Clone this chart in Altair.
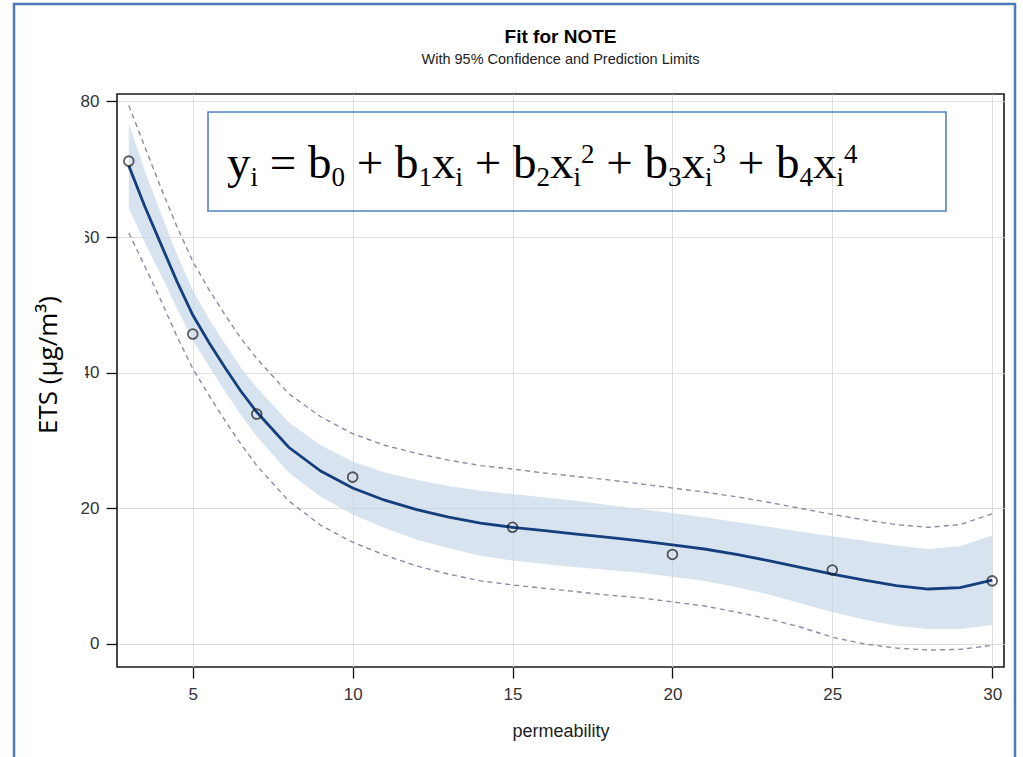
import altair as alt
import pandas as pd

# fitted curve and limits
x_fit = [3, 3.5, 4, 4.5, 5, 5.5, 6, 6.5, 7, 8, 9, 10, 11, 12, 13, 14, 15, 16, 17, 18,
         19, 20, 21, 22, 23, 24, 25, 26, 27, 28, 29, 30]
fit = [70.5, 64.5, 59.0, 53.5, 48.5, 44.5, 40.8, 37.3, 34.2, 29.0, 25.5, 23.0, 21.2, 19.8,
       18.7, 17.8, 17.2, 16.7, 16.2, 15.7, 15.2, 14.6, 14.0, 13.2, 12.3, 11.3, 10.3, 9.4,
       8.6, 8.1, 8.3, 9.4]
ci_lo = [64.2, 59.2, 54.5, 49.5, 44.8, 41.0, 37.3, 33.8, 30.6, 25.3, 21.7, 19.1, 17.1, 15.4,
         14.1, 13.0, 12.3, 11.8, 11.3, 10.9, 10.5, 9.9, 9.3, 8.4, 7.3, 6.0, 4.7, 3.6,
         2.7, 2.2, 2.2, 2.8]
ci_hi = [76.8, 69.8, 63.5, 57.5, 52.2, 48.0, 44.3, 40.8, 37.8, 32.7, 29.3, 26.9, 25.3, 24.2,
         23.3, 22.6, 22.1, 21.6, 21.1, 20.5, 19.9, 19.3, 18.7, 18.0, 17.3, 16.6, 15.9, 15.2,
         14.5, 14.0, 14.4, 16.0]
pi_lo = [60.6, 55.7, 50.7, 45.4, 40.6, 36.7, 33.0, 29.5, 26.3, 21.1, 17.5, 15.0, 13.1, 11.5,
         10.3, 9.3, 8.7, 8.2, 7.7, 7.2, 6.8, 6.2, 5.6, 4.7, 3.7, 2.5, 1.0, 0.0,
         -0.6, -0.9, -0.8, -0.2]
pi_hi = [79.4, 73.3, 67.3, 61.6, 56.4, 52.3, 48.6, 45.1, 42.1, 36.9, 33.5, 31.0, 29.3, 28.1,
         27.1, 26.3, 25.8, 25.2, 24.7, 24.2, 23.6, 23.0, 22.4, 21.7, 20.9, 20.0, 19.1, 18.3,
         17.6, 17.2, 17.6, 19.2]

# observed points
x_obs = [3, 5, 7, 10, 15, 20, 25, 30]
y_obs = [71.2, 45.7, 33.9, 24.6, 17.2, 13.2, 10.9, 9.3]

x_ticks = [5, 10, 15, 20, 25, 30]
y_ticks = [0, 20, 40, 60, 80]

title_text = "Fit for NOTE"
subtitle_text = "With 95% Confidence and Prediction Limits"
x_title = "permeability"
y_title = "ETS (μg/m³)"

# equation pieces: (text, role)  role: m = main, b = subscript, p = superscript, o = operator
eq_pieces = [("y", "m"), ("i", "b"), ("=", "o"), ("b", "m"), ("0", "b"), ("+", "o"),
             ("b", "m"), ("1", "b"), ("x", "m"), ("i", "b"), ("+", "o"),
             ("b", "m"), ("2", "b"), ("x", "m"), ("i", "b"), ("2", "p"), ("+", "o"),
             ("b", "m"), ("3", "b"), ("x", "m"), ("i", "b"), ("3", "p"), ("+", "o"),
             ("b", "m"), ("4", "b"), ("x", "m"), ("i", "b"), ("4", "p")]

fit_df = pd.DataFrame({"x": x_fit, "fit": fit, "ci_lo": ci_lo, "ci_hi": ci_hi,
                       "pi_lo": pi_lo, "pi_hi": pi_hi})
obs_df = pd.DataFrame({"x": x_obs, "y": y_obs})
one = pd.DataFrame({"a": [0]})

FONT = "Liberation Sans"
W, H = 887, 573

xscale = alt.Scale(domain=[2.63, 30.37], nice=False, zero=False)
yscale = alt.Scale(domain=[-3.4, 81.1], nice=False, zero=False)

x_enc = alt.X("x:Q", scale=xscale,
              axis=alt.Axis(values=x_ticks, title=x_title, format="d"))
y_axis = alt.Axis(values=y_ticks, title=None, format="d")

base = alt.Chart(fit_df)

band = base.mark_area(color="#c3d4e8", opacity=0.65).encode(
    x=x_enc,
    y=alt.Y("ci_lo:Q", scale=yscale, axis=y_axis),
    y2="ci_hi:Q",
)
pi_hi_line = base.mark_line(color="#8a8ca4", strokeDash=[5, 4], strokeWidth=1.4).encode(
    x=x_enc, y=alt.Y("pi_hi:Q", scale=yscale, axis=y_axis))
pi_lo_line = base.mark_line(color="#8a8ca4", strokeDash=[5, 4], strokeWidth=1.4).encode(
    x=x_enc, y=alt.Y("pi_lo:Q", scale=yscale, axis=y_axis))
fit_line = base.mark_line(color="#143f7c", strokeWidth=2.8).encode(
    x=x_enc, y=alt.Y("fit:Q", scale=yscale, axis=y_axis))
points = alt.Chart(obs_df).mark_point(filled=False, color="#1a1a1a", size=95,
                                      strokeWidth=1.8, shape="circle").encode(
    x=x_enc, y=alt.Y("y:Q", scale=yscale, axis=y_axis))

# equation box (transparent inside, grid shows through)
eq_box = alt.Chart(one).mark_rect(fill=None, stroke="#5282c0", strokeWidth=1.6).encode(
    x=alt.value(91), x2=alt.value(829), y=alt.value(18), y2=alt.value(117))

# equation laid out piece by piece with Times (Liberation Serif) advance widths
MAIN, SCRIPT = 47, 27
adv = {"y": 0.5, "b": 0.5, "x": 0.5, "i": 0.278, "=": 0.564, "+": 0.564,
       "0": 0.5, "1": 0.5, "2": 0.5, "3": 0.5, "4": 0.5}
space = 0.25 * MAIN
base_y = 84.3
eq_layers = []
cx = 110.0
for t, role in eq_pieces:
    if role == "o":
        cx += space
        fs, yy = MAIN, base_y
    elif role == "m":
        fs, yy = MAIN, base_y
    elif role == "b":
        fs, yy = SCRIPT, base_y + 8
    else:
        fs, yy = SCRIPT, base_y - 15
    eq_layers.append(
        alt.Chart(one).mark_text(text=t, font="Liberation Serif", fontSize=fs,
                                 align="left", baseline="alphabetic", color="black")
        .encode(x=alt.value(round(cx, 1)), y=alt.value(yy)))
    cx += adv[t] * fs
    if role == "o":
        cx += space

# title and subtitle
title_mark = alt.Chart(one).mark_text(
    text=title_text, font=FONT, fontSize=19, fontWeight="bold", align="center",
    baseline="middle", color="black").encode(x=alt.value(W / 2), y=alt.value(-57))
subtitle_mark = alt.Chart(one).mark_text(
    text=subtitle_text, font=FONT, fontSize=14.5, align="center",
    baseline="middle", color="#222222").encode(x=alt.value(W / 2), y=alt.value(-34))

# outer frame
frame = alt.Chart(one).mark_rect(fill=None, stroke="#4a7ab8", strokeWidth=2.5).encode(
    x=alt.value(-103), x2=alt.value(898), y=alt.value(-90), y2=alt.value(670))

# y title box covering part of the tick labels
cover = alt.Chart(one).mark_rect(fill="white").encode(
    x=alt.value(-95), x2=alt.value(-32), y=alt.value(110), y2=alt.value(395))
ytitle = alt.Chart(one).mark_text(
    text=y_title, font="Open Sans", fontSize=26, angle=270, align="center",
    baseline="middle", color="black").encode(x=alt.value(-68), y=alt.value(271))

chart = alt.layer(
    band, pi_hi_line, pi_lo_line, fit_line, points, eq_box, *eq_layers,
    title_mark, subtitle_mark, cover, ytitle, frame
).properties(
    width=W, height=H,
    autosize=alt.AutoSizeParams(type="none"),
    padding={"left": 117, "top": 94, "right": 19, "bottom": 90},
    background="white",
).configure_view(
    stroke="#1a1a1a", strokeWidth=1.6
).configure_axis(
    labelFont=FONT, labelFontSize=17, labelColor="#333333",
    titleFont=FONT, titleFontSize=18, titleFontWeight="normal", titleColor="#222222",
    domain=False, tickColor="#111111", tickSize=11, tickWidth=1.3,
    grid=True, gridColor="#dedede", gridWidth=1,
).configure_axisX(
    labelPadding=8, titlePadding=20,
).configure_axisY(
    labelPadding=7,
)

chart.save("out.html", embed_options={"renderer": "svg", "actions": False})
